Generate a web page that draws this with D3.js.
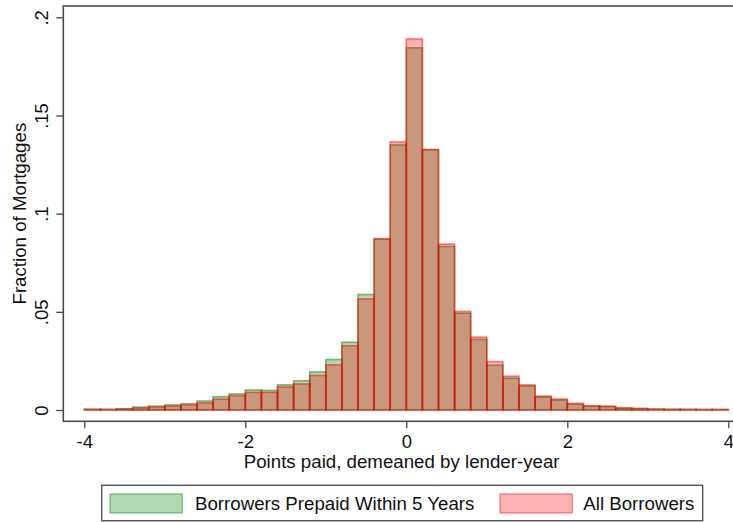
<!DOCTYPE html>
<html>
<head>
<meta charset="utf-8">
<script src="https://cdn.jsdelivr.net/npm/d3@7"></script>
<style>
  html, body { margin: 0; padding: 0; background: #fff; }
  svg { display: block; }
  text { font-family: "Liberation Sans", Arial, sans-serif; fill: #111; }
</style>
</head>
<body>
<svg id="chart" width="733" height="522"></svg>
<script>
// Bin left edges (width 0.2) from -4 to 3.8
const binWidth = 0.2;
const binStarts = d3.range(40).map(i => +(-4 + i * binWidth).toFixed(1));

// Fraction of mortgages per bin
const prepaidValues = [
  0.0003, 0.0003, 0.0006, 0.0015, 0.0020, 0.0026, 0.0032, 0.0046, 0.0068, 0.0082,
  0.0102, 0.0100, 0.0128, 0.0149, 0.0194, 0.0257, 0.0345, 0.0588, 0.0870, 0.1350,
  0.1845, 0.1325, 0.0833, 0.0493, 0.0360, 0.0228, 0.0162, 0.0122, 0.0066, 0.0051,
  0.0029, 0.0019, 0.0017, 0.0009, 0.0007, 0.0004, 0.0003, 0.0003, 0.0002, 0.0002
];
const allValues = [
  0.0004, 0.0003, 0.0005, 0.0010, 0.0015, 0.0020, 0.0026, 0.0036, 0.0055, 0.0073,
  0.0090, 0.0090, 0.0117, 0.0133, 0.0176, 0.0230, 0.0327, 0.0566, 0.0873, 0.1365,
  0.1890, 0.1327, 0.0845, 0.0502, 0.0371, 0.0246, 0.0172, 0.0128, 0.0071, 0.0056,
  0.0034, 0.0022, 0.0020, 0.0011, 0.0008, 0.0005, 0.0004, 0.0003, 0.0003, 0.0003
];

const seriesNames = ["Borrowers Prepaid Within 5 Years", "All Borrowers"];
const seriesColors = ["rgb(0,128,0)", "rgb(255,0,0)"];

const xTicks = [-4, -2, 0, 2, 4];
const yTicks = [0, 0.05, 0.1, 0.15, 0.2];
const xTitle = "Points paid, demeaned by lender-year";
const yTitle = "Fraction of Mortgages";

const svg = d3.select("#chart");

const plot = { left: 63.3, top: 6, right: 740, bottom: 421.3 };

const x = d3.scaleLinear().domain([-4, 4]).range([84.3, 728.3]);
const y = d3.scaleLinear().domain([0, 0.2]).range([410, 17.3]);

const fillOpacity = 0.3, strokeOpacity = 0.5;

// Histogram bars, prepaid first, all borrowers on top
[prepaidValues, allValues].forEach((vals, si) => {
  svg.append("g")
    .selectAll("rect")
    .data(binStarts.map((b, i) => ({ b, v: vals[i] })))
    .join("rect")
      .attr("x", d => x(d.b))
      .attr("width", d => x(d.b + binWidth) - x(d.b))
      .attr("y", d => y(d.v))
      .attr("height", d => y(0) - y(d.v))
      .attr("fill", seriesColors[si])
      .attr("fill-opacity", fillOpacity)
      .attr("stroke", seriesColors[si])
      .attr("stroke-opacity", strokeOpacity)
      .attr("stroke-width", 1.6);
});

// Plot region frame
svg.append("rect")
  .attr("x", plot.left).attr("y", plot.top)
  .attr("width", plot.right - plot.left)
  .attr("height", plot.bottom - plot.top)
  .attr("fill", "none")
  .attr("stroke", "#4a4a4a")
  .attr("stroke-width", 1.6);

// X axis (plain hyphen for negatives)
const xTickFmt = d => String(d);
const yTickFmt = d => d === 0 ? "0" : String(d).replace(/^0/, "");
const gx = svg.append("g")
  .attr("transform", `translate(0,${plot.bottom})`)
  .call(d3.axisBottom(x).tickValues(xTicks).tickSize(7).tickPadding(0).tickFormat(xTickFmt));
gx.select(".domain").remove();
gx.selectAll(".tick line").attr("stroke", "#4a4a4a").attr("stroke-width", 1.3);
gx.selectAll(".tick text")
  .attr("y", 26.4).attr("dy", 0)
  .style("font-size", "18.5px")
  .attr("font-family", null);

// Y axis with vertical labels
const gy = svg.append("g")
  .attr("transform", `translate(${plot.left},0)`)
  .call(d3.axisLeft(y).tickValues(yTicks).tickSize(7).tickFormat(yTickFmt));
gy.select(".domain").remove();
gy.selectAll(".tick line").attr("stroke", "#4a4a4a").attr("stroke-width", 1.3);
gy.selectAll(".tick text")
  .attr("transform", "rotate(-90)")
  .attr("x", 0).attr("y", -15.3).attr("dy", 0)
  .attr("text-anchor", "middle")
  .style("font-size", "18.5px")
  .attr("font-family", null);

svg.selectAll(".tick text").attr("fill", "#111");

// Axis titles
svg.append("text")
  .attr("x", (plot.left + plot.right) / 2).attr("y", 468.3)
  .attr("text-anchor", "middle")
  .style("font-size", "18.7px")
  .text(xTitle);

svg.append("text")
  .attr("transform", `translate(25.7,${(plot.top + plot.bottom) / 2}) rotate(-90)`)
  .attr("text-anchor", "middle")
  .style("font-size", "18.7px")
  .text(yTitle);

// Legend
const legend = svg.append("g");
legend.append("rect")
  .attr("x", 101.7).attr("y", 485.3)
  .attr("width", 601).attr("height", 35.4)
  .attr("fill", "#fff")
  .attr("stroke", "#555")
  .attr("stroke-width", 1.4);

const legendItems = [
  { sx: 110, tx: 195 },
  { sx: 500, tx: 583.3 }
];
legendItems.forEach((it, i) => {
  legend.append("rect")
    .attr("x", it.sx).attr("y", 494)
    .attr("width", 72.3).attr("height", 19)
    .attr("fill", seriesColors[i])
    .attr("fill-opacity", fillOpacity)
    .attr("stroke", seriesColors[i])
    .attr("stroke-opacity", 0.4)
    .attr("stroke-width", 1.5);
  legend.append("text")
    .attr("x", it.tx).attr("y", 509.7)
    .style("font-size", "18.7px")
    .text(seriesNames[i]);
});
</script>
</body>
</html>
